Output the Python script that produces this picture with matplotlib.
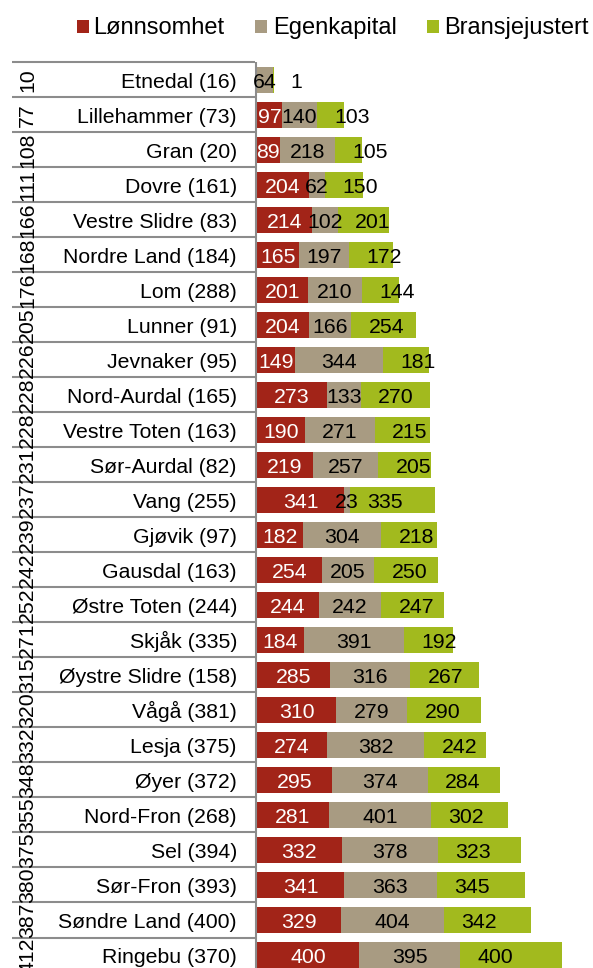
import matplotlib
matplotlib.use('Agg')
import matplotlib.pyplot as plt
from matplotlib.transforms import blended_transform_factory
from matplotlib.patches import Rectangle

names = ["Etnedal (16)", "Lillehammer (73)", "Gran (20)", "Dovre (161)", "Vestre Slidre (83)",
         "Nordre Land (184)", "Lom (288)", "Lunner (91)", "Jevnaker (95)", "Nord-Aurdal (165)",
         "Vestre Toten (163)", "Sør-Aurdal (82)", "Vang (255)", "Gjøvik (97)", "Gausdal (163)",
         "Østre Toten (244)", "Skjåk (335)", "Øystre Slidre (158)", "Vågå (381)", "Lesja (375)",
         "Øyer (372)", "Nord-Fron (268)", "Sel (394)", "Sør-Fron (393)", "Søndre Land (400)",
         "Ringebu (370)"]
ranks = [10, 77, 108, 111, 166, 168, 176, 205, 226, 228, 228, 231, 237, 239, 242, 252, 271,
         315, 320, 332, 348, 355, 375, 380, 387, 412]
lonnsomhet = [0, 97, 89, 204, 214, 165, 201, 204, 149, 273, 190, 219, 341, 182, 254, 244, 184,
              285, 310, 274, 295, 281, 332, 341, 329, 400]
egenkapital = [64, 140, 218, 62, 102, 197, 210, 166, 344, 133, 271, 257, 23, 304, 205, 242, 391,
               316, 279, 382, 374, 401, 378, 363, 404, 395]
bransje = [1, 103, 105, 150, 201, 172, 144, 254, 181, 270, 215, 205, 335, 218, 250, 247, 192,
           267, 290, 242, 284, 302, 323, 345, 342, 400]
series_names = ["Lønnsomhet", "Egenkapital", "Bransjejustert"]

C_RED = "#A22418"
C_BEIGE = "#A89B82"
C_GREEN = "#A2BA1E"
C_LINE = "#8C8C8C"

plt.rcParams['font.family'] = ['Liberation Sans', 'DejaVu Sans']

W, H = 593, 968
fig = plt.figure(figsize=(W / 100, H / 100), dpi=100)
n = len(names)
row_px = 35.0
top_px = 62.5
ax = fig.add_axes([257 / W, 1 - (top_px + n * row_px) / H, 1 - 257 / W, n * row_px / H])
ax.set_xlim(0, 336 / 0.2552)
ax.set_ylim(n - 0.5, -0.5)
ax.axis('off')

y = list(range(n))
bh = 0.77
ax.barh(y, lonnsomhet, height=bh, color=C_RED, linewidth=0)
ax.barh(y, egenkapital, left=lonnsomhet, height=bh, color=C_BEIGE, linewidth=0)
left2 = [a + b for a, b in zip(lonnsomhet, egenkapital)]
ax.barh(y, bransje, left=left2, height=bh, color=C_GREEN, linewidth=0)

FS_VAL = 15.3
FS_NAME = 15.3
cap = 0.716

def put(x, yy, s, fs, color, ha, dx=0.0, transform=None):
    ax.annotate(s, xy=(x, yy), xycoords=transform if transform is not None else 'data',
                xytext=(dx, -cap * fs / 2), textcoords='offset points',
                ha=ha, va='baseline', fontsize=fs, color=color, annotation_clip=False)

for i in range(n):
    a, b, c = lonnsomhet[i], egenkapital[i], bransje[i]
    if a > 0:
        put(a / 2, i, str(a), FS_VAL, 'white', 'center')
    if b > 0:
        put(a + b / 2, i, str(b), FS_VAL, 'black', 'center')
    if c > 0:
        put(a + b, i, str(c), FS_VAL, 'black', 'left', dx=12.5)

trans = blended_transform_factory(fig.transFigure, ax.transData)
for i in range(n):
    put(237 / W, i, names[i], FS_NAME, 'black', 'right', transform=trans)
    ax.text(33 / W, i, str(ranks[i]), transform=trans, rotation=90, rotation_mode='anchor',
            ha='center', va='baseline', fontsize=FS_VAL, color='black', clip_on=False)

for k in range(n + 1):
    ax.plot([12 / W, 255 / W], [k - 0.5, k - 0.5], transform=trans, color=C_LINE,
            lw=1.5, clip_on=False, solid_capstyle='butt')
ax.plot([255.5 / W, 255.5 / W], [-0.5, n - 0.5], transform=trans, color=C_LINE,
        lw=1.5, clip_on=False, solid_capstyle='butt')

# legend
leg = [(77, 93, C_RED), (255, 273, C_BEIGE), (427, 444, C_GREEN)]
for (sx, tx, col), lab in zip(leg, series_names):
    fig.add_artist(Rectangle((sx / W, 1 - 33 / H), 11.5 / W, 13 / H, transform=fig.transFigure,
                             color=col, linewidth=0))
    fig.text(tx / W, 1 - 34 / H, lab, ha='left', va='baseline', fontsize=17, color='black')

fig.savefig('out.png', dpi=100)
